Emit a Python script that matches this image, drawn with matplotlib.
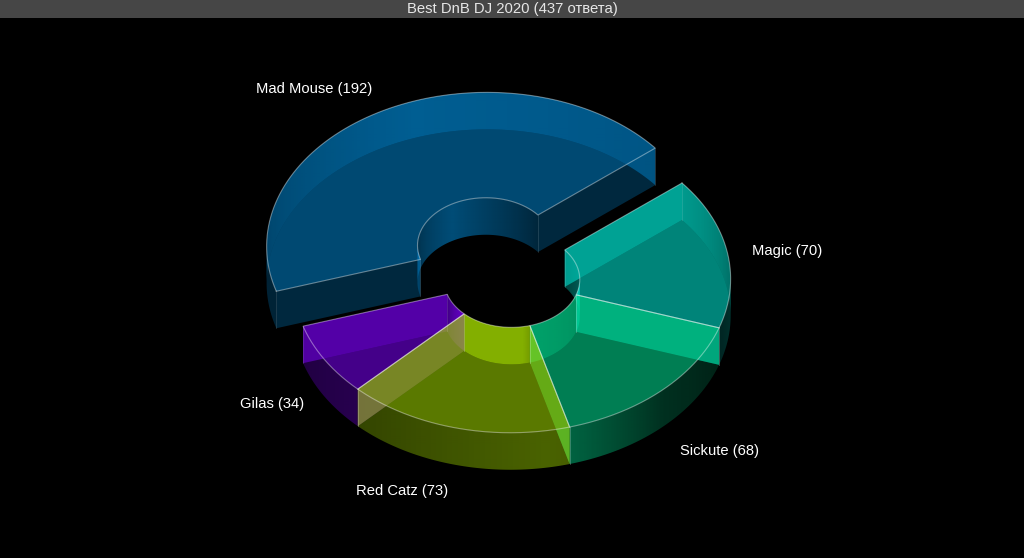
import numpy as np
import matplotlib
matplotlib.use("Agg")
import matplotlib.pyplot as plt
from matplotlib.colors import to_rgb
from matplotlib.patches import Polygon, Rectangle

title = "Best DnB DJ 2020 (437 ответа)"
names = ["Magic", "Sickute", "Red Catz", "Gilas", "Mad Mouse"]
votes = [70, 68, 73, 34, 192]
explode = [0, 0, 0, 0, 0.26]
colors = ["#00e6d3", "#00dc91", "#9ed300", "#7700ef", "#0080c7"]
draw_order = [4, 0, 1, 3, 2]
label_nudge = [(-8, 3), (-4, 7), (0, 4), (7, -5), (5, -2)]

# the pie is a tilted circle, these two vectors are its projected axes (pixels)
center = np.array([512.0, 280.0])
axis_u = np.array([170.0, -97.0])
axis_v = np.array([137.5, 118.0])
depth = 37.0
inner = 0.31
layer_alpha = 0.35

# wall opacity around the circle (degrees from the start of the first slice)
outer_deg = [0, 30, 60, 85, 113, 120, 165, 200, 215, 290, 360]
outer_op = [0.5, 0.25, 0.16, 0.22, 0.45, 0.47, 0.35, 0.28, 0.27, 0.6, 0.5]
inner_deg = [0, 57, 113, 120, 174, 202, 280, 360]
inner_op = [0.3, 0.5, 0.6, 0.75, 0.75, 0.3, 0.6, 0.3]


def rim(radius, theta, origin, z=0.0):
    pts = origin + radius * (np.outer(np.cos(theta), axis_u) + np.outer(np.sin(theta), axis_v))
    pts[:, 1] += z
    return pts


def face(ax, pts, color, alpha):
    patch = Polygon(pts, closed=True, facecolor=color, edgecolor="none", alpha=alpha)
    ax.add_patch(patch)
    return patch


def wall_piece(ax, theta, radius, origin, color, deg, op):
    # gradient image across x, clipped to the shape of the wall
    top = rim(radius, theta, origin)
    bottom = rim(radius, theta, origin, depth)
    poly = np.vstack([top, bottom[::-1]])
    x0, x1 = int(np.floor(poly[:, 0].min())), int(np.ceil(poly[:, 0].max())) + 1
    y0, y1 = poly[:, 1].min() - 1, poly[:, 1].max() + 1
    cols = np.arange(x0, x1) + 0.5
    order = np.argsort(top[:, 0])
    alpha = np.interp(np.degrees(np.interp(cols, top[order, 0], theta[order])), deg, op)
    img = np.zeros((1, len(cols), 4))
    img[..., :3] = to_rgb(color)
    img[..., 3] = alpha
    im = ax.imshow(img, extent=(x0, x1, y1, y0), aspect="auto", interpolation="bilinear")
    im.set_clip_path(Polygon(poly, closed=True, transform=ax.transData))


def wall(ax, theta, radius, origin, color, deg, op):
    # split where the rim turns back in x so each piece is monotonic
    x = rim(radius, theta, origin)[:, 0]
    turns = np.where(np.diff(np.sign(np.diff(x))) != 0)[0] + 1
    bounds = [0] + list(turns) + [len(theta) - 1]
    for a, b in zip(bounds[:-1], bounds[1:]):
        if b - a >= 1:
            wall_piece(ax, theta[a:b + 1], radius, origin, color, deg, op)


fig = plt.figure(figsize=(10.24, 5.58), dpi=100, facecolor="black")
ax = fig.add_axes([0, 0, 1, 1])
ax.set_facecolor("black")

edges = np.radians(np.concatenate([[0], np.cumsum(votes)]) / np.sum(votes) * 360)
fonts = ["Liberation Sans", "DejaVu Sans"]
n = len(votes)

for i in draw_order:
    start, end = edges[i], edges[i + 1]
    mid = (start + end) / 2
    origin = center + explode[i] * (np.cos(mid) * axis_u + np.sin(mid) * axis_v)
    theta = np.linspace(start, end, 180)
    c = colors[i]

    outer_top = rim(1, theta, origin)
    inner_top = rim(inner, theta, origin)
    ring_top = np.vstack([outer_top, inner_top[::-1]])
    ring_bottom = np.vstack([rim(1, theta, origin, depth), rim(inner, theta, origin, depth)[::-1]])

    # the floor only shows through the top face
    floor = face(ax, ring_bottom, c, layer_alpha)
    floor.set_clip_path(Polygon(ring_top, closed=True, transform=ax.transData))

    wall(ax, theta, 1, origin, c, outer_deg, outer_op)
    wall(ax, theta, inner, origin, c, inner_deg, inner_op)
    for t, other in ((start, (i - 1) % n), (end, (i + 1) % n)):
        t2 = np.array([t])
        a, b = rim(inner, t2, origin)[0], rim(1, t2, origin)[0]
        lift = np.array([0, depth])
        # exploded slice has dark end walls, the others read brighter through the top
        if explode[i] > 0:
            op = layer_alpha * 0.9
        elif explode[other] > 0:
            op = 0.55
        else:
            op = 0.45
        face(ax, [a, b, b + lift, a + lift], c, op)
    face(ax, ring_top, c, layer_alpha)

    # light edges of the top face, fainter verticals
    closed = np.vstack([ring_top, ring_top[:1]])
    ax.plot(closed[:, 0], closed[:, 1], color="white", lw=0.8, alpha=0.4, solid_joinstyle="miter")
    for p in (outer_top[0], outer_top[-1], inner_top[0], inner_top[-1]):
        ax.plot([p[0], p[0]], [p[1], p[1] + depth], color="white", lw=0.7, alpha=0.12)

    # label sits outside the rim, on the side the slice points to
    pos = rim(1.15, np.array([mid]), origin)[0]
    if pos[1] > center[1]:
        pos[1] += depth
    ha = "left" if pos[0] > origin[0] else "right"
    ax.text(pos[0] + label_nudge[i][0], pos[1] + label_nudge[i][1], f"{names[i]} ({votes[i]})",
            color="white", fontsize=10.6, ha=ha, va="center", family=fonts)

ax.add_patch(Rectangle((0, 0), 1024, 18, facecolor="#464646", edgecolor="none", zorder=5))
ax.text(512, 9, title, color="#e6e6e6", fontsize=10.7, ha="center", va="center",
        family=fonts, zorder=6)

ax.set_xlim(0, 1024)
ax.set_ylim(558, 0)
ax.set_axis_off()

fig.savefig("out.png", dpi=100, facecolor="black")
